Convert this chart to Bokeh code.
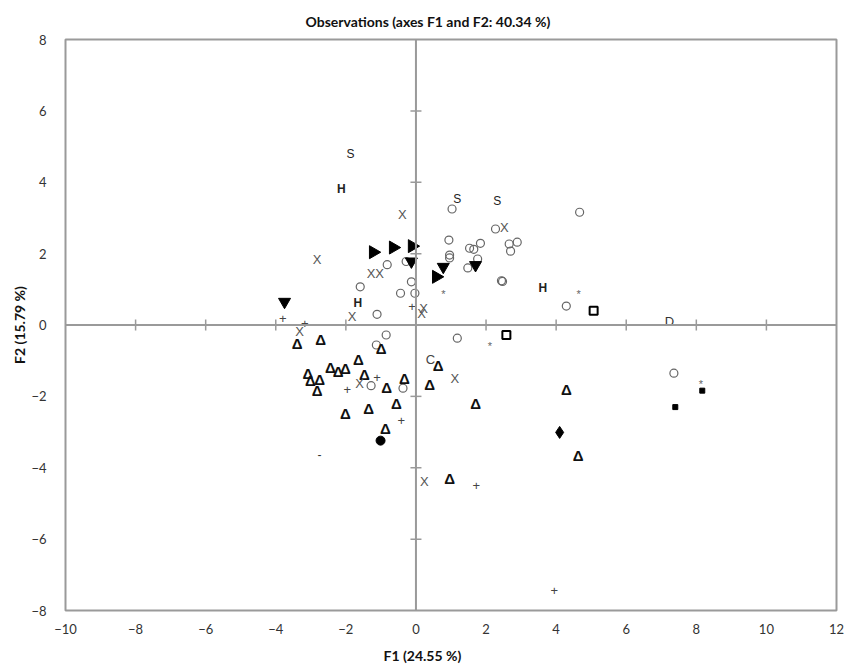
import math
from bokeh.plotting import figure
from bokeh.models import Range1d, FixedTicker, Span, Title, ColumnDataSource
from bokeh.core.properties import value
from bokeh.embed import file_html
from bokeh.resources import INLINE

# ---------------- data ----------------
x_ticks = [-10, -8, -6, -4, -2, 0, 2, 4, 6, 8, 10, 12]
y_ticks = [-8, -6, -4, -2, 0, 2, 4, 6, 8]

circ_x = [1.03, 0.94, -0.82, -0.28, -1.59, -0.13, -0.44, -0.03, -1.11, -0.85, -1.13, 1.18,
          -1.28, -0.37, 4.67, 2.27, 1.53, 1.84, 2.66, 2.89, 2.70, 1.76, 1.48, 2.44, 2.47,
          4.29, 7.36, 0.96, 0.96, 1.65]
circ_y = [3.25, 2.38, 1.69, 1.78, 1.07, 1.21, 0.89, 0.89, 0.30, -0.28, -0.56, -0.37,
          -1.70, -1.77, 3.16, 2.69, 2.15, 2.29, 2.27, 2.32, 2.07, 1.85, 1.60, 1.24, 1.22,
          0.53, -1.35, 1.96, 1.88, 2.12]

right_x = [-1.22, -0.65, -0.11, 0.58]
right_y = [2.04, 2.17, 2.21, 1.35]

down_x = [-0.13, 0.78, 1.70, -3.75]
down_y = [1.78, 1.63, 1.68, 0.65]

tri_x = [-3.39, -2.72, -0.99, -1.64, 0.63, -2.44, -2.22, -2.01, -3.08, -3.01, -2.75, -2.82,
         -1.47, -0.84, -0.33, 0.39, -0.56, -1.35, -2.01, -0.87, 1.70, 4.29, 4.63, 0.96]
tri_y = [-0.51, -0.42, -0.65, -0.98, -1.14, -1.19, -1.31, -1.23, -1.35, -1.56, -1.54, -1.84,
         -1.40, -1.74, -1.51, -1.68, -2.19, -2.35, -2.49, -2.91, -2.21, -1.82, -3.66, -4.31]

x_lab_x = [-0.39, -2.82, -1.28, -1.04, 0.22, 0.16, -1.82, -3.32, -1.61, 1.11, 2.52, 0.24]
x_lab_y = [3.09, 1.84, 1.43, 1.43, 0.45, 0.31, 0.25, -0.17, -1.65, -1.49, 2.72, -4.38]

s_x = [-1.87, 1.18, 2.32]
s_y = [4.78, 3.52, 3.48]

h_x = [-2.13, -1.66, 3.62]
h_y = [3.81, 0.62, 1.05]

c_x = [0.41]
c_y = [-0.98]
d_x = [7.23]
d_y = [0.11]
dash_x = [-2.75]
dash_y = [-3.62]

plus_x = [-0.11, -3.80, -3.17, -1.11, -1.96, -0.42, 1.72, 3.95]
plus_y = [0.53, 0.17, 0.05, -1.46, -1.80, -2.68, -4.50, -7.44]

star_x = [0.78, 4.64, 2.11, 8.13]
star_y = [0.87, 0.87, -0.58, -1.65]

osq_x = [5.07, 2.58]
osq_y = [0.40, -0.28]

fsq_x = [8.17, 7.40]
fsq_y = [-1.84, -2.30]

dia_x = [4.10]
dia_y = [-3.01]

dot_x = [-1.01]
dot_y = [-3.24]

# ---------------- figure ----------------
FONT = "Lato"
GRAY = "#9a9a9a"

p = figure(width=856, height=671, output_backend="svg", toolbar_location=None,
           x_range=Range1d(-10, 12), y_range=Range1d(-8, 8),
           min_border_left=65, min_border_right=20, min_border_top=39, min_border_bottom=60)

p.title.text = "Observations (axes F1 and F2: 40.34 %)"
p.title.align = "left"
p.title.offset = 240
p.title.standoff = 19
p.title.text_font = FONT
p.title.text_font_size = "14px"
p.title.text_font_style = "bold"
p.title.text_color = "#111111"

p.xgrid.visible = False
p.ygrid.visible = False
p.outline_line_color = GRAY
p.outline_line_width = 2
p.background_fill_color = "white"
p.border_fill_color = "white"

for ax, ticks in ((p.xaxis[0], x_ticks), (p.yaxis[0], y_ticks)):
    ax.ticker = FixedTicker(ticks=ticks)
    ax.axis_line_color = None
    ax.major_tick_line_color = None
    ax.minor_tick_line_color = None
    ax.major_label_text_font = FONT
    ax.major_label_text_font_size = "13px"
    ax.major_label_text_color = "#333333"

p.xaxis.major_label_standoff = 7
p.yaxis.major_label_standoff = 13
p.yaxis.axis_label = "F2 (15.79 %)"
p.yaxis.axis_label_text_font = FONT
p.yaxis.axis_label_text_font_size = "14px"
p.yaxis.axis_label_text_font_style = "bold"
p.yaxis.axis_label_text_color = "#111111"
p.yaxis.axis_label_standoff = 0

p.add_layout(Title(text="F1 (24.55 %)", align="left", offset=318, standoff=16, text_font=FONT,
                   text_font_size="14px", text_font_style="bold", text_color="#111111"), "below")

# center axes
p.add_layout(Span(location=0, dimension="height", line_color=GRAY, line_width=2))
p.add_layout(Span(location=0, dimension="width", line_color=GRAY, line_width=2))

inner_x = [t for t in x_ticks if t not in (0, x_ticks[0], x_ticks[-1])]
inner_y = [t for t in y_ticks if t not in (0, y_ticks[0], y_ticks[-1])]
p.scatter(inner_x, [0] * len(inner_x), marker="dash", size=11, angle=math.pi / 2,
          line_color=GRAY, line_width=1.5)
p.scatter([0] * len(inner_y), inner_y, marker="dash", size=11,
          line_color=GRAY, line_width=1.5)

# ---------------- markers ----------------
p.scatter(circ_x, circ_y, marker="circle", size=8, fill_color=None,
          line_color="#666666", line_width=1.2)

p.scatter(right_x, right_y, marker="triangle", angle=-math.pi / 2, size=13,
          fill_color="black", line_color="black")
p.scatter(down_x, down_y, marker="inverted_triangle", size=12,
          fill_color="black", line_color="black")

def txt(xs, ys, s, size, color, style="normal", font="Liberation Sans"):
    src = ColumnDataSource(dict(x=xs, y=ys, t=[s] * len(xs)))
    p.text(x="x", y="y", text="t", source=src, text_font=value(font),
           text_font_size=size, text_color=color, text_font_style=style,
           text_align="center", text_baseline="middle")

txt(tri_x, tri_y, "Δ", "15px", "#111111", "bold")
txt(x_lab_x, x_lab_y, "X", "13px", "#555555")
txt(s_x, s_y, "S", "12px", "#222222")
txt(h_x, h_y, "H", "12px", "#222222", "bold")
txt(c_x, c_y, "C", "13px", "#444444")
txt(d_x, d_y, "D", "13px", "#333333")
txt(dash_x, dash_y, "-", "12px", "#333333")
txt(plus_x, plus_y, "+", "13px", "#444444")
txt(star_x, star_y, "*", "11px", "#666666")

p.scatter(osq_x, osq_y, marker="square", size=8, fill_color="white",
          line_color="black", line_width=2)
p.scatter(fsq_x, fsq_y, marker="square", size=5, fill_color="black", line_color="black")
p.scatter(dia_x, dia_y, marker="diamond", size=12, fill_color="black", line_color="black")
p.scatter(dot_x, dot_y, marker="circle", size=9, fill_color="black", line_color="black")

open("out.html", "w").write(file_html(p, INLINE))
